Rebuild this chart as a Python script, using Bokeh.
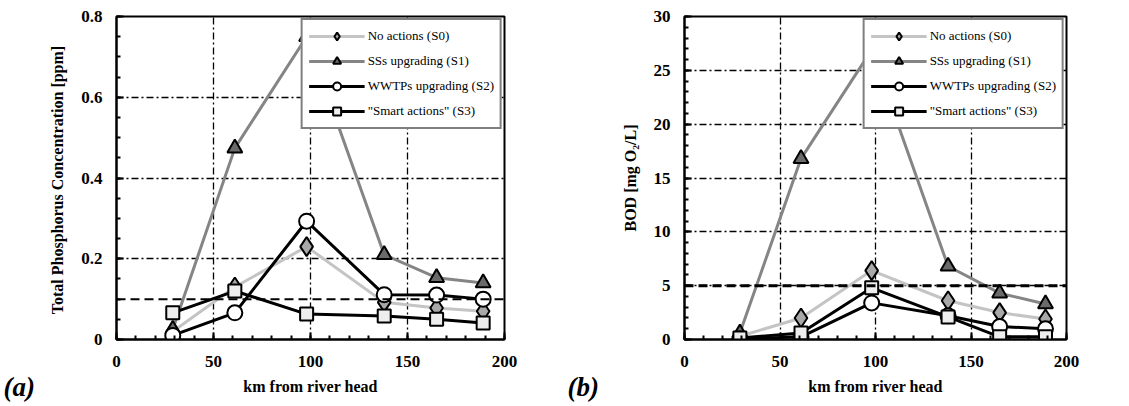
from bokeh.plotting import figure
from bokeh.layouts import row
from bokeh.models import Span, Legend, LegendItem, Title, FixedTicker, Range1d
from bokeh.embed import file_html
from bokeh.resources import INLINE

# ---------------- data ----------------
km = [29, 61, 98, 138, 165, 189]

tp_s0 = [0.02, 0.13, 0.23, 0.092, 0.078, 0.07]
tp_s1 = [0.025, 0.474, 0.75, 0.21, 0.153, 0.14]
tp_s2 = [0.01, 0.066, 0.293, 0.111, 0.11, 0.10]
tp_s3 = [0.066, 0.12, 0.063, 0.058, 0.05, 0.041]

bod_s0 = [0.3, 2.0, 6.4, 3.6, 2.5, 1.9]
bod_s1 = [0.6, 16.8, 26.9, 6.8, 4.3, 3.3]
bod_s2 = [0.05, 0.25, 3.4, 2.2, 1.2, 1.0]
bod_s3 = [0.15, 0.6, 4.8, 2.1, 0.25, 0.25]

series_names = ["No actions (S0)", "SSs upgrading (S1)",
                "WWTPs upgrading (S2)", "\"Smart actions\" (S3)"]

x_ticks = [0, 50, 100, 150, 200]
x_tick_labels = ["0", "50", "100", "150", "200"]
tp_ticks = [0, 0.2, 0.4, 0.6, 0.8]
tp_tick_labels = ["0", "0.2", "0.4", "0.6", "0.8"]
bod_ticks = [0, 5, 10, 15, 20, 25, 30]
bod_tick_labels = ["0", "5", "10", "15", "20", "25", "30"]

tp_limit = 0.1
bod_limit = 5

x_label = "km from river head"
tp_label = "Total Phosphorus Concentration  [ppm]"
bod_label = "BOD [mg O\u2082/L]"

# ---------------- styles ----------------
FONT = "Liberation Serif"
line_colors = ["#c4c4c4", "#858585", "#000000", "#000000"]
markers = ["diamond", "triangle", "circle", "square"]
marker_fills = ["#a8a8a8", "#6a6a6a", "#ffffff", "#eeeeee"]
marker_sizes = [19, 15, 15, 13]

FIG_H = 404
FRAME_H = 323
TOP = 16


def make_panel(series, yticks, ylabels, ymax, ylabel, limit, limit_w, tag,
               width, min_left, frame_w, minor_step):
    p = figure(width=width, height=FIG_H, output_backend="svg",
               toolbar_location=None, x_range=Range1d(0, 200),
               y_range=Range1d(0, ymax), min_border_left=min_left,
               min_border_right=width - min_left - frame_w,
               min_border_top=TOP, min_border_bottom=FIG_H - TOP - FRAME_H)
    p.outline_line_color = "black"
    p.outline_line_width = 2
    p.background_fill_color = "white"
    p.border_fill_color = "white"

    minor_x = list(range(0, 201, 10))
    p.xaxis.ticker = FixedTicker(ticks=x_ticks, minor_ticks=minor_x)
    p.xaxis.major_label_overrides = {t: l for t, l in zip(x_ticks, x_tick_labels)}
    nminor = int(round(ymax / minor_step))
    p.yaxis.ticker = FixedTicker(ticks=yticks,
                                 minor_ticks=[i * minor_step for i in range(nminor + 1)])
    p.yaxis.major_label_overrides = {t: l for t, l in zip(yticks, ylabels)}

    for ax in (p.xaxis[0], p.yaxis[0]):
        ax.axis_line_width = 2
        ax.axis_line_color = "black"
        ax.major_tick_in = 7
        ax.major_tick_out = 0
        ax.minor_tick_in = 4
        ax.minor_tick_out = 0
        ax.major_tick_line_width = 2
        ax.minor_tick_line_width = 2
        ax.major_label_text_font = FONT
        ax.major_label_text_font_style = "bold"
        ax.major_label_text_font_size = "17px"
        ax.major_label_text_color = "black"
        ax.axis_label_text_font = FONT
        ax.axis_label_text_font_style = "bold"
        ax.axis_label_text_font_size = "16px"
        ax.axis_label_text_color = "black"
    p.xaxis.axis_label = x_label
    p.yaxis.axis_label = ylabel
    p.xaxis.major_label_standoff = 16
    p.xaxis.axis_label_standoff = 8
    p.yaxis.major_label_standoff = 14
    p.yaxis.axis_label_standoff = 12

    p.grid.grid_line_color = "black"
    p.grid.grid_line_width = 1.3
    p.grid.grid_line_dash = "7 3 2 3"

    p.add_layout(Span(location=limit, dimension="width", line_color="black",
                      line_width=limit_w, line_dash="9 5"))

    items = []
    for i, ys in enumerate(series):
        lr = p.line(km, ys, line_color=line_colors[i], line_width=3)
        sr = p.scatter(km, ys, marker=markers[i], size=marker_sizes[i],
                       fill_color=marker_fills[i], line_color="black",
                       line_width=2)
        items.append(LegendItem(label=series_names[i], renderers=[lr, sr]))

    legend = Legend(items=items, location="top_right", margin=2,
                    border_line_color="black", border_line_width=2,
                    background_fill_color="white", background_fill_alpha=1,
                    label_text_font=FONT, label_text_font_size="13px",
                    label_text_color="black",
                    glyph_width=56, glyph_height=20, label_height=20,
                    label_standoff=3, spacing=5, padding=6)
    p.add_layout(legend)

    # panel tag at the lower-left corner of the figure
    p.add_layout(Title(text=tag, align="left", offset=-(min_left - 3),
                       vertical_align="top", standoff=-52,
                       text_font=FONT, text_font_style="bold italic",
                       text_font_size="27px", text_color="black"), "below")
    return p


p1 = make_panel([tp_s0, tp_s1, tp_s2, tp_s3], tp_ticks, tp_tick_labels, 0.8,
                tp_label, tp_limit, 2, "(a)", 564, 116, 388, 0.05)
p2 = make_panel([bod_s0, bod_s1, bod_s2, bod_s3], bod_ticks, bod_tick_labels, 30,
                bod_label, bod_limit, 3, "(b)", 560, 120, 382, 1)

layout = row(p1, p2)
open("out.html", "w").write(file_html(layout, INLINE))
